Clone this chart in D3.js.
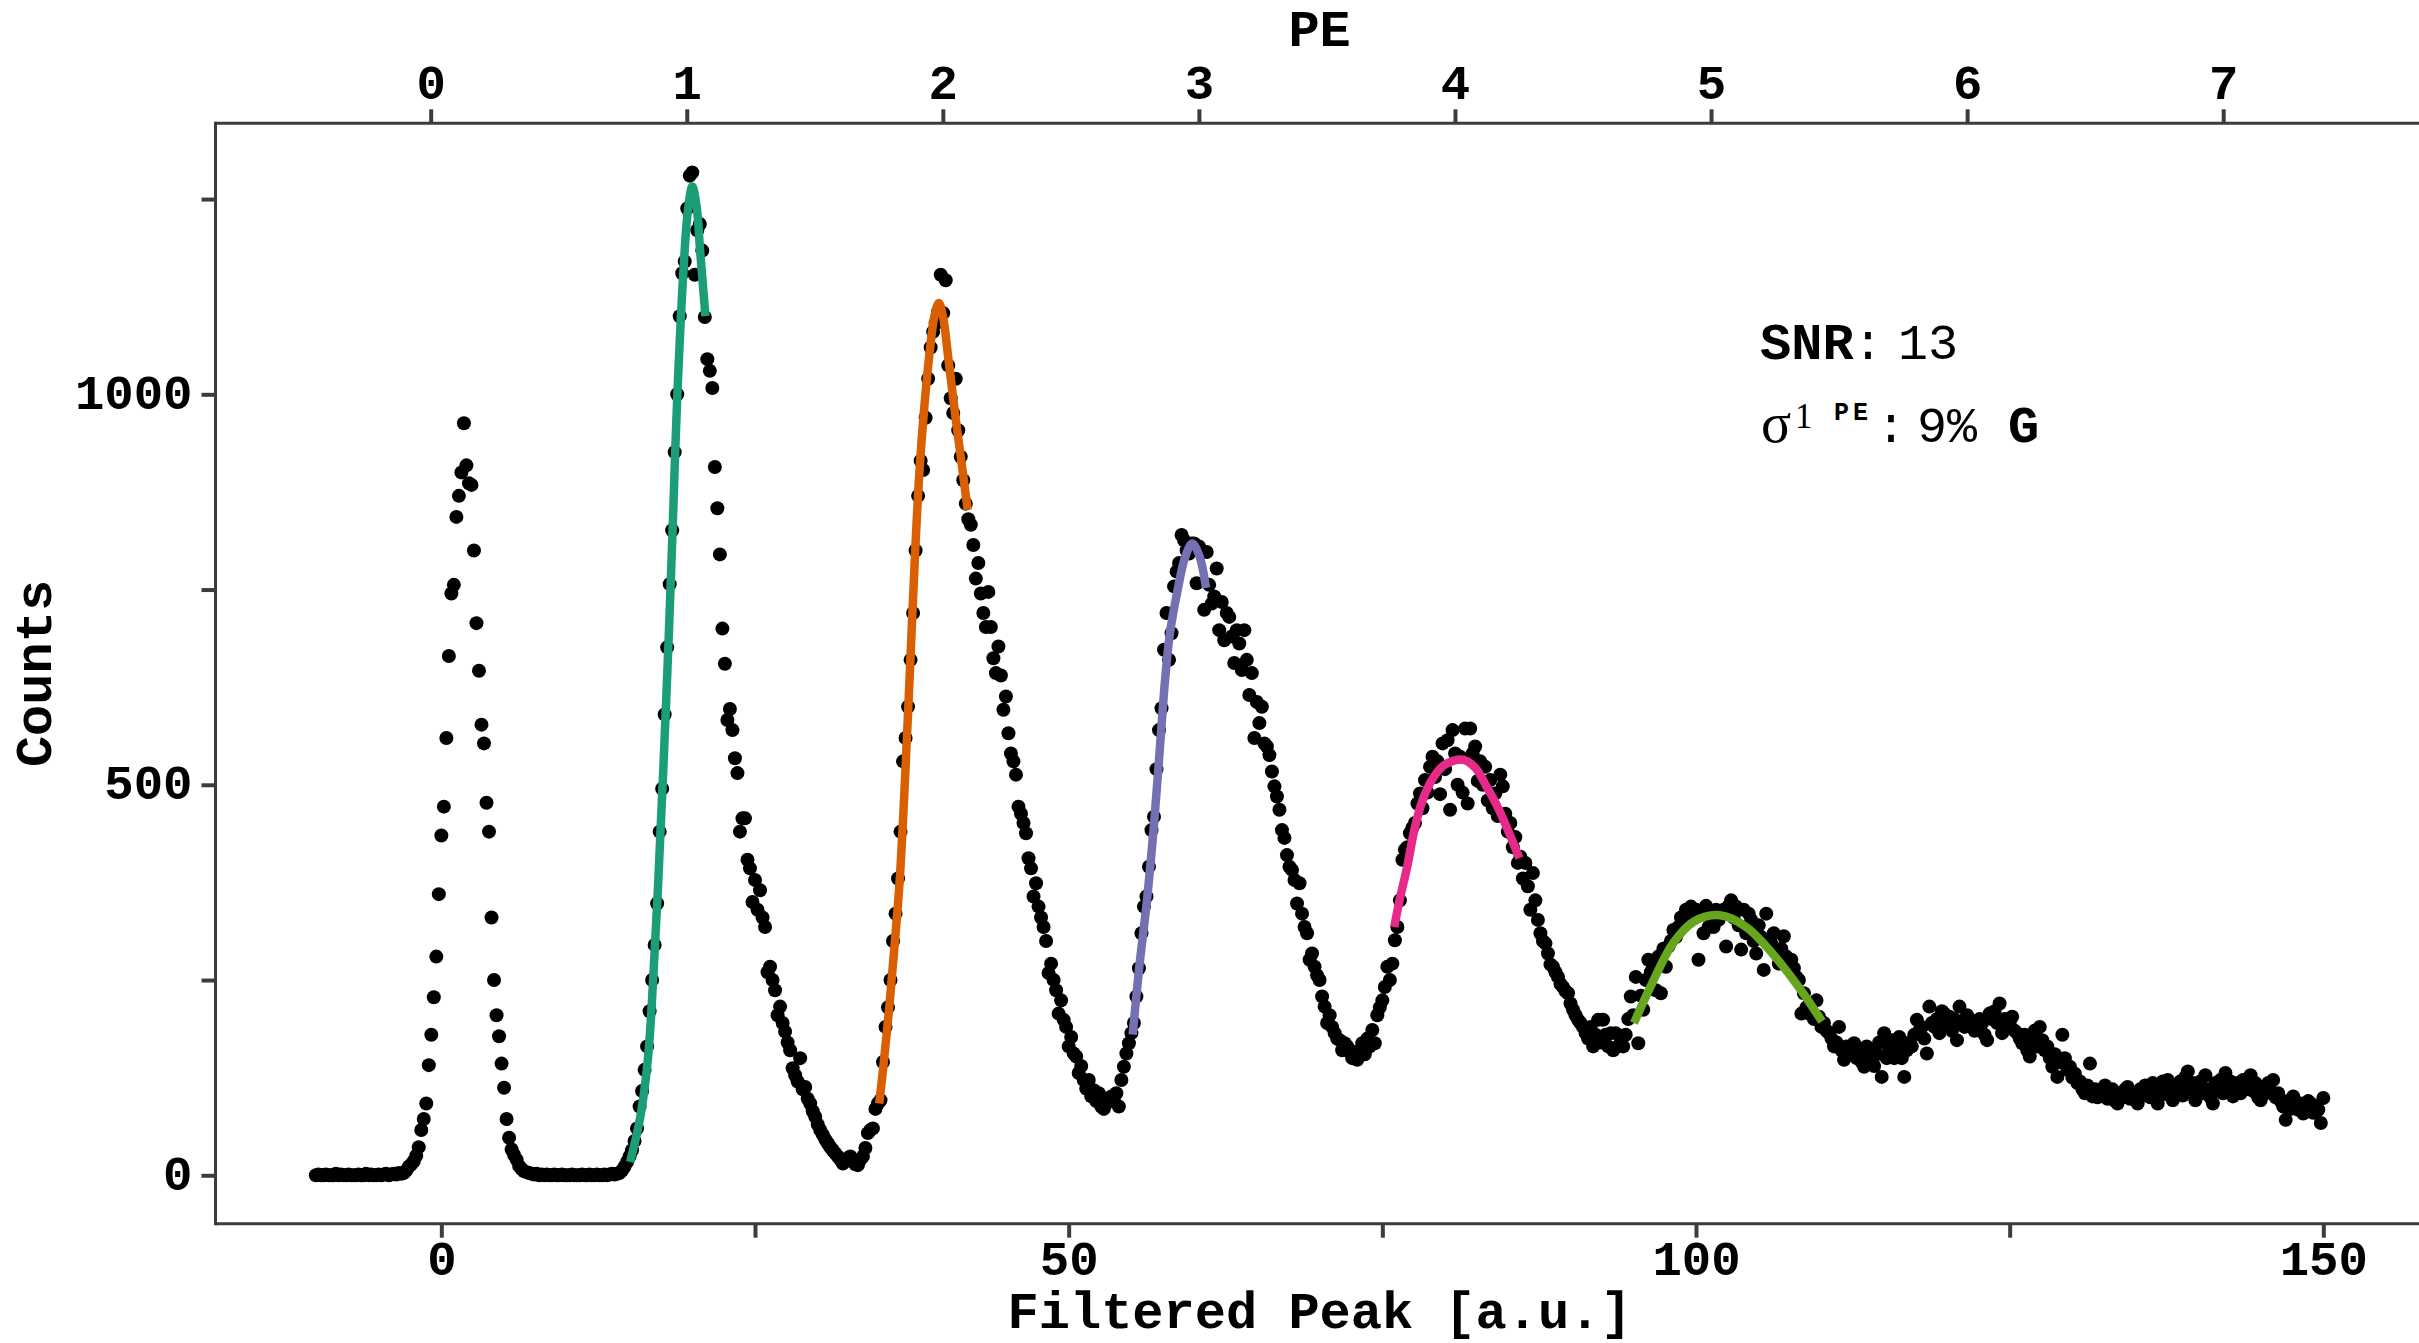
<!DOCTYPE html>
<html>
<head>
<meta charset="utf-8">
<script src="https://cdn.jsdelivr.net/npm/d3@7"></script>
<style>
  html, body { margin: 0; padding: 0; background: #ffffff; }
  svg { display: block; }
</style>
</head>
<body>
<svg id="chart" width="2419" height="1343"></svg>
<script>
// ---------------- DATA ----------------
// Histogram of filtered peak amplitude: bins of 0.2 a.u., first bin centre at -10
const binStart = -10;
const binWidth = 0.2;
const counts = [
  /* -10 */ 0,1,0,0,1,
  /*  -9 */ 0,0,0,2,0,
  /*  -8 */ 1,0,0,1,0,
  /*  -7 */ 0,0,1,0,0,
  /*  -6 */ 2,0,1,0,0,
  /*  -5 */ 1,0,1,2,0,
  /*  -4 */ 1,2,1,3,2,
  /*  -3 */ 3,6,11,14,18,
  /*  -2 */ 25,36,58,72,92,
  /*  -1 */ 141,180,228,280,360,
  /*   0 */ 435,472,560,665,745,
  /*   1 */ 756,843,870,900,963,
  /*   2 */ 909,886,884,800,707,
  /*   3 */ 646,577,553,477,440,
  /*   4 */ 330,250,205,178,143,
  /*   5 */ 112,72,48,33,26,
  /*   6 */ 20,12,8,5,4,
  /*   7 */ 3,2,1,2,0,
  /*   8 */ 1,0,1,0,0,
  /*   9 */ 1,0,0,1,0,
  /*  10 */ 0,0,1,0,0,
  /*  11 */ 0,1,0,0,1,
  /*  12 */ 0,0,1,0,0,
  /*  13 */ 1,0,1,2,1,
  /*  14 */ 2,3,6,11,17,
  /*  15 */ 24,32,44,60,88,
  /*  16 */ 108,135,165,210,250,
  /*  17 */ 295,348,440,495,590,
  /*  18 */ 676,757,826,926,1000,
  /*  19 */ 1100,1155,1170,1238,1280,
  /*  20 */ 1284,1153,1210,1218,1184,
  /*  21 */ 1099,1045,1030,1008,907,
  /*  22 */ 854,795,700,655,583,
  /*  23 */ 597,570,534,515,440,
  /*  24 */ 457,457,404,393,350,
  /*  25 */ 378,340,365,330,318,
  /*  26 */ 260,267,250,237,205,
  /*  27 */ 216,195,184,170,160,
  /*  28 */ 137,128,120,150,110,
  /*  29 */ 113,98,92,82,75,
  /*  30 */ 65,58,52,46,41,
  /*  31 */ 36,32,28,24,20,
  /*  32 */ 15,18,22,24,18,
  /*  33 */ 14,13,20,24,35,
  /*  34 */ 54,58,60,85,92,
  /*  35 */ 96,145,190,215,250,
  /*  36 */ 300,335,380,440,530,
  /*  37 */ 560,600,660,720,800,
  /*  38 */ 870,915,903,970,1020,
  /*  39 */ 1060,1080,1091,1106,1153,
  /*  40 */ 1104,1146,1037,995,976,
  /*  41 */ 1020,954,920,890,860,
  /*  42 */ 840,833,807,764,784,
  /*  43 */ 745,720,702,747,702,
  /*  44 */ 662,643,677,640,596,
  /*  45 */ 613,566,540,530,513,
  /*  46 */ 472,463,451,438,406,
  /*  47 */ 393,357,374,344,330,
  /*  48 */ 318,300,259,271,250,
  /*  49 */ 237,207,224,199,190,
  /*  50 */ 165,177,156,152,131,
  /*  51 */ 140,122,111,122,101,
  /*  52 */ 109,95,105,88,85,
  /*  53 */ 92,98,101,95,105,
  /*  54 */ 88,122,139,156,169,
  /*  55 */ 182,195,229,265,310,
  /*  56 */ 344,357,395,442,459,
  /*  57 */ 520,570,598,673,720,
  /*  58 */ 660,694,754,773,784,
  /*  59 */ 820,813,800,796,809,
  /*  60 */ 809,758,805,798,724,
  /*  61 */ 798,756,732,741,777,
  /*  62 */ 698,734,685,720,715,
  /*  63 */ 690,656,698,681,647,
  /*  64 */ 698,660,615,643,560,
  /*  65 */ 606,579,600,553,549,
  /*  66 */ 538,517,498,485,468,
  /*  67 */ 442,432,410,395,391,
  /*  68 */ 378,348,374,335,318,
  /*  69 */ 310,276,284,267,256,
  /*  70 */ 250,229,216,195,205,
  /*  71 */ 190,182,175,173,160,
  /*  72 */ 169,165,158,150,158,
  /*  73 */ 148,160,169,155,175,
  /*  74 */ 165,186,169,205,215,
  /*  75 */ 224,241,267,250,271,
  /*  76 */ 301,318,352,404,417,
  /*  77 */ 420,438,445,451,476,
  /*  78 */ 489,470,506,490,523,
  /*  79 */ 536,510,530,488,553,
  /*  80 */ 520,557,468,570,540,
  /*  81 */ 500,536,490,572,476,
  /*  82 */ 572,540,549,505,530,
  /*  83 */ 500,523,480,506,470,
  /*  84 */ 489,460,513,498,463,
  /*  85 */ 440,451,420,433,400,
  /*  86 */ 408,380,400,370,340,
  /*  87 */ 387,352,327,310,300,
  /*  88 */ 297,284,270,267,260,
  /*  89 */ 254,245,241,236,233,
  /*  90 */ 220,212,205,199,195,
  /*  91 */ 190,182,175,190,165,
  /*  92 */ 180,199,170,199,180,
  /*  93 */ 165,182,160,182,165,
  /*  94 */ 170,165,180,200,229,
  /*  95 */ 205,254,169,230,212,
  /*  96 */ 250,276,260,267,237,
  /*  97 */ 280,233,290,267,293,
  /*  98 */ 300,314,305,318,330,
  /*  99 */ 320,340,325,344,330,
  /* 100 */ 340,276,335,310,345,
  /* 101 */ 318,330,318,340,327,
  /* 102 */ 335,340,293,345,352,
  /* 103 */ 330,344,320,289,340,
  /* 104 */ 310,335,327,300,284,
  /* 105 */ 320,305,263,335,300,
  /* 106 */ 297,310,290,271,290,
  /* 107 */ 306,280,270,276,265,
  /* 108 */ 254,250,207,233,215,
  /* 109 */ 207,210,200,224,203,
  /* 110 */ 190,195,185,182,175,
  /* 111 */ 165,170,190,160,148,
  /* 112 */ 165,155,160,169,150,
  /* 113 */ 160,145,139,165,150,
  /* 114 */ 160,140,155,170,126,
  /* 115 */ 182,150,160,173,150,
  /* 116 */ 165,177,150,126,160,
  /* 117 */ 170,165,180,199,185,
  /* 118 */ 190,175,156,216,195,
  /* 119 */ 190,200,182,210,207,
  /* 120 */ 195,203,185,200,173,
  /* 121 */ 216,195,190,205,200,
  /* 122 */ 195,185,186,200,195,
  /* 123 */ 180,173,207,200,210,
  /* 124 */ 195,220,182,200,190,
  /* 125 */ 195,203,185,182,175,
  /* 126 */ 169,180,160,152,175,
  /* 127 */ 185,165,190,173,160,
  /* 128 */ 165,150,139,155,126,
  /* 129 */ 145,180,150,135,139,
  /* 130 */ 125,130,118,120,110,
  /* 131 */ 105,115,143,101,110,
  /* 132 */ 100,109,105,115,98,
  /* 133 */ 101,110,95,92,105,
  /* 134 */ 100,110,113,98,105,
  /* 135 */ 100,92,110,102,115,
  /* 136 */ 109,100,118,105,92,
  /* 137 */ 110,120,104,122,112,
  /* 138 */ 96,115,108,120,102,
  /* 139 */ 126,133,110,118,96,
  /* 140 */ 112,120,105,128,110,
  /* 141 */ 100,92,118,110,122,
  /* 142 */ 105,131,112,120,101,
  /* 143 */ 110,118,105,122,110,
  /* 144 */ 115,128,108,118,100,
  /* 145 */ 96,112,105,118,108,
  /* 146 */ 122,100,105,95,88,
  /* 147 */ 71,95,85,101,90,
  /* 148 */ 84,92,79,88,95,
  /* 149 */ 92,80,88,84,67,
  /* 150 */ 99
];

// Fitted peak curves: [filtered peak, counts]
const fitPE1 = [[15.05,17],[15.86,75],[16.47,150],[16.88,250],[17.3,380],[17.69,520],[18.1,680],[18.43,826],[18.8,995],[19.32,1165],[19.65,1235],[20.0,1266],[20.35,1240],[20.62,1185],[21.05,1100]];
const fitPE2 = [[34.9,92],[35.3,150],[35.7,215],[36.1,290],[36.52,375],[36.92,495],[37.33,640],[37.74,790],[38.1,900],[38.5,985],[38.96,1060],[39.3,1100],[39.65,1117],[40.0,1098],[40.38,1050],[41.0,968],[41.4,920],[41.95,852]];
const fitPE3 = [[55.1,180],[55.63,267],[56.24,352],[56.85,459],[57.26,545],[57.66,630],[58.07,694],[58.68,749],[59.29,792],[59.85,809],[60.4,794],[60.95,752]];
const fitPE4 = [[75.95,318],[76.37,352],[76.98,395],[77.59,445],[78.2,480],[79.02,508],[79.83,524],[80.7,531],[81.5,532],[82.4,522],[83.3,498],[84.3,468],[85.11,438],[85.92,406]];
const fitPE5 = [[95.06,195],[96.51,246],[98.17,297],[99.84,325],[101.9,333],[104.0,318],[106.09,284],[108.18,241],[110.05,197]];
const fitColors = ["#1b9e77", "#d95f02", "#7570b3", "#e7298a", "#66a61e"];

// Axis ticks
const xTicks = [0, 25, 50, 75, 100, 125, 150];
const xTickLabels = ["0", "", "50", "", "100", "", "150"];
const yTicks = [0, 250, 500, 750, 1000, 1250];
const yTickLabels = ["0", "", "500", "", "1000", ""];
const peTicks = [0, 1, 2, 3, 4, 5, 6, 7];
const peOffset = -0.85;   // filtered peak of 0 PE
const peGain = 20.41;     // filtered peak per PE

// Annotation
const snrValue = "13";
const sigmaValue = "9%";

// ---------------- DRAWING ----------------
const W = 2419, H = 1343;
const plotLeft = 215.5, plotRight = 2423.7, plotTop = 123.3, plotBottom = 1223.7;
const monoFont = "'Liberation Mono', 'Courier New', 'DejaVu Sans Mono', monospace";
const serifFont = "'Liberation Serif', 'DejaVu Serif', serif";
const axisColor = "#3c3c3c";

const svg = d3.select("#chart");
svg.append("rect").attr("width", W).attr("height", H).attr("fill", "#ffffff");

const x = d3.scaleLinear().domain([-18, 158]).range([plotLeft, plotRight]);
const y = d3.scaleLinear().domain([-62, 1347]).range([plotBottom, plotTop]);
const pe = d3.scaleLinear()
  .domain([(x.domain()[0] - peOffset) / peGain, (x.domain()[1] - peOffset) / peGain])
  .range([plotLeft, plotRight]);

// scatter points
const points = counts.map((c, i) => ({ u: binStart + i * binWidth, c: c }));
svg.append("g")
  .selectAll("circle")
  .data(points)
  .join("circle")
  .attr("cx", d => x(d.u))
  .attr("cy", d => y(d.c))
  .attr("r", 7)
  .attr("fill", "#000000");

// fits
const line = d3.line()
  .x(d => x(d[0]))
  .y(d => y(d[1]))
  .curve(d3.curveCatmullRom.alpha(0.5));
[fitPE1, fitPE2, fitPE3, fitPE4, fitPE5].forEach((f, i) => {
  svg.append("path")
    .attr("d", line(f))
    .attr("fill", "none")
    .attr("stroke", fitColors[i])
    .attr("stroke-width", 8.5)
    .attr("stroke-linejoin", "round");
});

// spines (left, bottom, top; right lies just outside the picture)
const spines = svg.append("g").attr("stroke", axisColor).attr("stroke-width", 3).attr("fill", "none");
spines.append("line").attr("x1", plotLeft).attr("x2", plotLeft).attr("y1", plotTop - 1.5).attr("y2", plotBottom + 1.5);
spines.append("line").attr("x1", plotLeft).attr("x2", plotRight).attr("y1", plotBottom).attr("y2", plotBottom);
spines.append("line").attr("x1", plotLeft).attr("x2", plotRight).attr("y1", plotTop).attr("y2", plotTop);

function styleAxis(g) {
  g.attr("font-family", monoFont).attr("font-size", 49).attr("font-weight", "bold");
  g.select(".domain").remove();
  g.selectAll(".tick line").attr("stroke", axisColor).attr("stroke-width", 4);
  g.selectAll(".tick text").attr("fill", "#000000");
}

// bottom axis
const gB = svg.append("g")
  .attr("transform", `translate(0,${plotBottom})`)
  .call(d3.axisBottom(x).tickValues(xTicks).tickFormat((d, i) => xTickLabels[i]).tickSize(14).tickSizeOuter(0));
styleAxis(gB);
gB.selectAll(".tick text").attr("y", 51).attr("dy", 0);

// left axis
const gL = svg.append("g")
  .attr("transform", `translate(${plotLeft},0)`)
  .call(d3.axisLeft(y).tickValues(yTicks).tickFormat((d, i) => yTickLabels[i]).tickSize(14).tickSizeOuter(0));
styleAxis(gL);
gL.selectAll(".tick text").attr("x", -23).attr("dy", 0).attr("y", 14);

// top axis (PE)
const gT = svg.append("g")
  .attr("transform", `translate(0,${plotTop})`)
  .call(d3.axisTop(pe).tickValues(peTicks).tickFormat(d3.format("d")).tickSize(14).tickSizeOuter(0));
styleAxis(gT);
gT.selectAll(".tick text").attr("y", -24).attr("dy", 0);

// axis labels
const labelStyle = sel => sel.attr("font-family", monoFont).attr("font-weight", "bold")
  .attr("font-size", 52).attr("fill", "#000000").attr("text-anchor", "middle");
svg.append("text").call(labelStyle)
  .attr("x", (plotLeft + plotRight) / 2).attr("y", 1328)
  .text("Filtered Peak [a.u.]");
svg.append("text").call(labelStyle)
  .attr("x", (plotLeft + plotRight) / 2).attr("y", 46)
  .text("PE");
svg.append("text").call(labelStyle)
  .attr("transform", `translate(51,${(plotTop + plotBottom) / 2}) rotate(-90)`)
  .text("Counts");

// annotation
const ann = svg.append("g").attr("fill", "#000000");
const l1 = ann.append("text").attr("y", 359).attr("font-family", monoFont);
l1.append("tspan").attr("x", 1760).attr("font-weight", "bold").attr("font-size", 52).text("SNR");
l1.append("tspan").attr("x", 1853).attr("font-weight", "normal").attr("font-size", 50).text(":");
l1.append("tspan").attr("x", 1898).attr("font-weight", "normal").attr("font-size", 50).text(snrValue);

ann.append("text").attr("x", 1761).attr("y", 441.5)
  .attr("font-family", serifFont).attr("font-size", 56).text("σ");
ann.append("text").attr("x", 1795).attr("y", 428)
  .attr("font-family", serifFont).attr("font-size", 35).text("1");
ann.append("text").attr("x", 1834).attr("y", 420)
  .attr("font-family", monoFont).attr("font-weight", "bold").attr("font-size", 25)
  .attr("letter-spacing", 4).text("PE");
const l2 = ann.append("text").attr("y", 441.5).attr("font-family", monoFont);
l2.append("tspan").attr("x", 1876).attr("font-weight", "normal").attr("font-size", 50).text(":");
l2.append("tspan").attr("x", 1917).attr("font-weight", "normal").attr("font-size", 50).text(sigmaValue);
l2.append("tspan").attr("x", 2008).attr("font-weight", "bold").attr("font-size", 52).text("G");
</script>
</body>
</html>
